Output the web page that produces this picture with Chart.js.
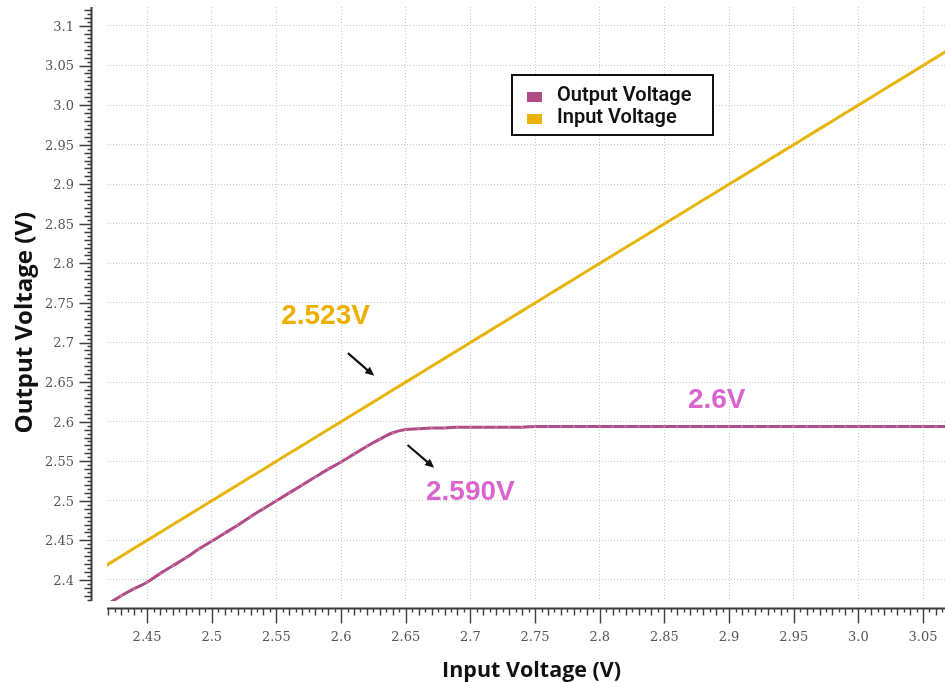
<!DOCTYPE html>
<html>
<head>
<meta charset="utf-8">
<script src="https://cdn.jsdelivr.net/npm/chart.js@4.4.1/dist/chart.umd.min.js"></script>
<style>
  html, body { margin: 0; padding: 0; background: #ffffff; }
  #plot { display: block; }
</style>
</head>
<body>
<canvas id="plot" width="945" height="682"></canvas>
<script>
// Swept supply (x axis), volts
const sweepVoltage = [
  2.41, 2.42, 2.43, 2.44, 2.45, 2.46, 2.47, 2.48, 2.49, 2.50,
  2.51, 2.52, 2.53, 2.54, 2.55, 2.56, 2.57, 2.58, 2.59, 2.60,
  2.61, 2.62, 2.63, 2.64, 2.65, 2.66, 2.67, 2.68, 2.69, 2.70,
  2.71, 2.72, 2.73, 2.74, 2.75, 2.76, 2.77, 2.78, 2.79, 2.80,
  2.81, 2.82, 2.83, 2.84, 2.85, 2.86, 2.87, 2.88, 2.89, 2.90,
  2.91, 2.92, 2.93, 2.94, 2.95, 2.96, 2.97, 2.98, 2.99, 3.00,
  3.01, 3.02, 3.03, 3.04, 3.05, 3.06, 3.07
];

// Measured input rail, volts
const inputTrace = [
  2.41, 2.42, 2.43, 2.44, 2.45, 2.46, 2.47, 2.48, 2.49, 2.50,
  2.51, 2.52, 2.53, 2.54, 2.55, 2.56, 2.57, 2.58, 2.59, 2.60,
  2.61, 2.62, 2.63, 2.64, 2.65, 2.66, 2.67, 2.68, 2.69, 2.70,
  2.71, 2.72, 2.73, 2.74, 2.75, 2.76, 2.77, 2.78, 2.79, 2.80,
  2.81, 2.82, 2.83, 2.84, 2.85, 2.86, 2.87, 2.88, 2.89, 2.90,
  2.91, 2.92, 2.93, 2.94, 2.95, 2.96, 2.97, 2.98, 2.99, 3.00,
  3.01, 3.02, 3.03, 3.04, 3.05, 3.06, 3.07
];

// Measured regulator output, volts
const outputTrace = [
  2.360, 2.370, 2.380, 2.389, 2.397, 2.408, 2.418, 2.428, 2.439, 2.449,
  2.459, 2.469, 2.480, 2.490, 2.500, 2.510, 2.520, 2.530, 2.540, 2.549,
  2.559, 2.569, 2.578, 2.586, 2.590, 2.591, 2.592, 2.592, 2.593, 2.593,
  2.593, 2.593, 2.593, 2.593, 2.594, 2.594, 2.594, 2.594, 2.594, 2.594,
  2.594, 2.594, 2.594, 2.594, 2.594, 2.594, 2.594, 2.594, 2.594, 2.594,
  2.594, 2.594, 2.594, 2.594, 2.594, 2.594, 2.594, 2.594, 2.594, 2.594,
  2.594, 2.594, 2.594, 2.594, 2.594, 2.594, 2.594
];

const xTickValues = [2.45, 2.50, 2.55, 2.60, 2.65, 2.70, 2.75, 2.80, 2.85, 2.90, 2.95, 3.00, 3.05];
const xTickLabels = ['2.45', '2.5', '2.55', '2.6', '2.65', '2.7', '2.75', '2.8', '2.85', '2.9', '2.95', '3.0', '3.05'];
const yTickValues = [2.40, 2.45, 2.50, 2.55, 2.60, 2.65, 2.70, 2.75, 2.80, 2.85, 2.90, 2.95, 3.00, 3.05, 3.10];
const yTickLabels = ['2.4', '2.45', '2.5', '2.55', '2.6', '2.65', '2.7', '2.75', '2.8', '2.85', '2.9', '2.95', '3.0', '3.05', '3.1'];

const seriesNames = ['Output Voltage', 'Input Voltage'];
const seriesColors = ['#B04C86', '#E8B40B'];

// Callout texts and arrows, placed in data coordinates
const calloutTexts = [
  { text: '2.523V', x: 2.588, y: 2.733, color: '#EDB000' },
  { text: '2.590V', x: 2.700, y: 2.511, color: '#D965CF' },
  { text: '2.6V',   x: 2.8905, y: 2.6266, color: '#D965CF' }
];
const calloutArrows = [
  { from: [2.6053, 2.6866], to: [2.6256, 2.6580] },
  { from: [2.6514, 2.5705], to: [2.6720, 2.5417] }
];

const asPoints = ys => sweepVoltage.map((x, i) => ({ x: x, y: ys[i] }));

// Ruler-style detached axes: long tick every 0.05, medium every 0.01, short every 0.005
const rulerAxes = {
  id: 'rulerAxes',
  afterDraw(chart) {
    const { ctx, chartArea: a, scales: { x, y } } = chart;
    const axisX = a.left - 15.5;
    const axisY = a.bottom + 7.5;
    ctx.save();
    ctx.strokeStyle = '#3c3c3c';
    ctx.lineWidth = 2;
    ctx.beginPath();
    ctx.moveTo(axisX, a.top);
    ctx.lineTo(axisX, a.bottom);
    ctx.moveTo(a.left, axisY);
    ctx.lineTo(a.right, axisY);
    ctx.stroke();

    ctx.lineWidth = 1.4;
    ctx.beginPath();
    for (let k = Math.ceil(y.min / 0.005 - 1e-6); k * 0.005 <= y.max + 1e-9; k++) {
      const p = Math.round(y.getPixelForValue(k * 0.005)) + 0.5;
      const len = k % 10 === 0 ? 12 : (k % 2 === 0 ? 7 : 4);
      ctx.moveTo(axisX, p);
      ctx.lineTo(axisX - len, p);
    }
    for (let k = Math.ceil(x.min / 0.005 - 1e-6); k * 0.005 <= x.max + 1e-9; k++) {
      const p = Math.round(x.getPixelForValue(k * 0.005)) + 0.5;
      const len = k % 10 === 0 ? 15 : (k % 2 === 0 ? 7 : 4);
      ctx.moveTo(p, axisY);
      ctx.lineTo(p, axisY + len);
    }
    ctx.stroke();
    ctx.restore();
  }
};

// Boxed legend inside the plot
const boxedLegend = {
  id: 'boxedLegend',
  afterDatasetsDraw(chart) {
    const { ctx, chartArea: a } = chart;
    const bx = a.left + 405, by = a.top + 68, bw = 201, bh = 60;
    ctx.save();
    ctx.fillStyle = '#ffffff';
    ctx.fillRect(bx, by, bw, bh);
    ctx.strokeStyle = '#111111';
    ctx.lineWidth = 2;
    ctx.strokeRect(bx, by, bw, bh);
    ctx.font = '600 20px Roboto';
    ctx.textBaseline = 'alphabetic';
    chart.data.datasets.forEach((ds, i) => {
      const rowY = by + 17 + i * 22;
      ctx.fillStyle = ds.borderColor;
      ctx.fillRect(bx + 15, rowY, 15, 10);
      ctx.fillStyle = '#111111';
      ctx.fillText(ds.label, bx + 45, rowY + 9);
    });
    ctx.restore();
  }
};

// Value callouts with arrows
const callouts = {
  id: 'callouts',
  afterDatasetsDraw(chart) {
    const { ctx, scales: { x, y } } = chart;
    ctx.save();
    ctx.font = 'bold 28px "Liberation Sans"';
    ctx.textAlign = 'center';
    ctx.textBaseline = 'middle';
    calloutTexts.forEach(c => {
      ctx.fillStyle = c.color;
      ctx.fillText(c.text, x.getPixelForValue(c.x), y.getPixelForValue(c.y));
    });
    ctx.strokeStyle = '#111111';
    ctx.fillStyle = '#111111';
    ctx.lineWidth = 2.2;
    calloutArrows.forEach(ar => {
      const x0 = x.getPixelForValue(ar.from[0]), y0 = y.getPixelForValue(ar.from[1]);
      const x1 = x.getPixelForValue(ar.to[0]), y1 = y.getPixelForValue(ar.to[1]);
      const ang = Math.atan2(y1 - y0, x1 - x0);
      const head = 10;
      ctx.beginPath();
      ctx.moveTo(x0, y0);
      ctx.lineTo(x1 - Math.cos(ang) * head * 0.8, y1 - Math.sin(ang) * head * 0.8);
      ctx.stroke();
      ctx.beginPath();
      ctx.moveTo(x1, y1);
      ctx.lineTo(x1 - head * Math.cos(ang - 0.42), y1 - head * Math.sin(ang - 0.42));
      ctx.lineTo(x1 - head * Math.cos(ang + 0.42), y1 - head * Math.sin(ang + 0.42));
      ctx.closePath();
      ctx.fill();
    });
    ctx.restore();
  }
};

const tickFont = { family: '"DejaVu Serif"', size: 13 };

new Chart(document.getElementById('plot'), {
  type: 'line',
  data: {
    datasets: [
      {
        label: seriesNames[0],
        data: asPoints(outputTrace),
        borderColor: seriesColors[0],
        backgroundColor: seriesColors[0],
        borderWidth: 3,
        pointRadius: 1.2,
        pointBorderWidth: 0,
        pointBackgroundColor: '#C978A8',
        cubicInterpolationMode: 'monotone',
        clip: 0
      },
      {
        label: seriesNames[1],
        data: asPoints(inputTrace),
        borderColor: seriesColors[1],
        backgroundColor: seriesColors[1],
        borderWidth: 3,
        pointRadius: 0,
        clip: 0
      }
    ]
  },
  options: {
    responsive: false,
    animation: false,
    devicePixelRatio: 1,
    layout: { autoPadding: false, padding: { top: 7, right: 0, bottom: 0, left: 0 } },
    plugins: { legend: { display: false }, tooltip: { enabled: false } },
    scales: {
      x: {
        type: 'linear',
        min: 2.419,
        max: 3.067,
        afterBuildTicks: s => { s.ticks = xTickValues.map(v => ({ value: v })); },
        afterFit: s => { s.height = 81; s.paddingLeft = 0; s.paddingRight = 0; },
        grid: { color: '#c8c8c8', lineWidth: 1, drawTicks: false },
        border: { display: false, dash: [1, 2] },
        ticks: {
          padding: 29, color: '#555555', font: tickFont,
          maxRotation: 0, autoSkip: false,
          callback: (v, i) => xTickLabels[i]
        },
        title: {
          display: true, text: '\u00a0\u00a0Input Voltage (V)', color: '#111111',
          font: { family: '"Open Sans"', size: 21.5, weight: 'bold', lineHeight: 1 },
          padding: { top: 0, bottom: 0 }
        }
      },
      y: {
        type: 'linear',
        min: 2.3734,
        max: 3.124,
        afterBuildTicks: s => { s.ticks = yTickValues.map(v => ({ value: v })); },
        afterFit: s => { s.width = 107; s.paddingTop = 0; s.paddingBottom = 0; },
        grid: { color: '#c8c8c8', lineWidth: 1, drawTicks: false },
        border: { display: false, dash: [1, 2] },
        ticks: {
          padding: 33, color: '#555555', font: tickFont,
          autoSkip: false, labelOffset: 1.5,
          callback: (v, i) => yTickLabels[i]
        },
        title: {
          display: true, text: 'Output Voltage (V)\u00a0\u00a0\u00a0\u00a0\u00a0\u00a0', color: '#111111',
          font: { family: '"Open Sans"', size: 24, weight: 'bold' },
          padding: { top: 11, bottom: 0 }
        }
      }
    }
  },
  plugins: [rulerAxes, boxedLegend, callouts]
});
</script>
</body>
</html>
